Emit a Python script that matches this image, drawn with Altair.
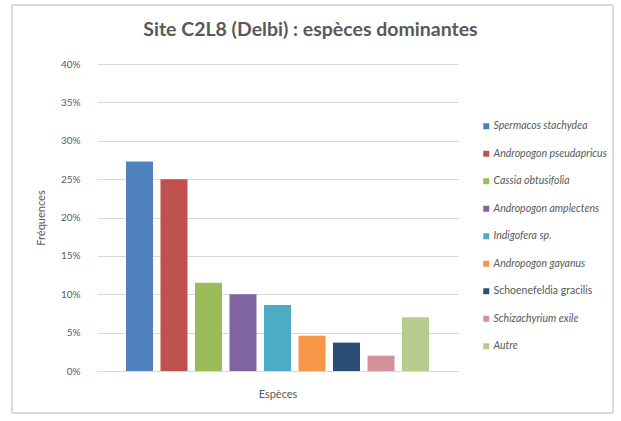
import altair as alt
import pandas as pd

# Dominant species at site C2L8 (Delbi) and their frequencies
especes = [
    " Spermacos stachydea",
    "Andropogon pseudapricus",
    "Cassia obtusifolia",
    "Andropogon amplectens",
    "Indigofera sp.",
    "Andropogon gayanus",
    " Schoenefeldia gracilis",
    "Schizachyrium exile",
    "Autre",
]
frequences = [0.273, 0.250, 0.115, 0.100, 0.086, 0.046, 0.037, 0.020, 0.070]
couleurs = [
    "#4F81BD", "#C0504D", "#9BBB59", "#8064A2", "#4BACC6",
    "#F79646", "#2C4D75", "#D4919A", "#B5CC8E",
]
graduations = [0, 0.05, 0.10, 0.15, 0.20, 0.25, 0.30, 0.35, 0.40]

df = pd.DataFrame({"espece": especes, "frequence": frequences})

FONT = "Lato"
GRAY = "#595959"

bars = alt.Chart(df).mark_bar(size=27).encode(
    x=alt.X(
        "espece:N",
        sort=especes,
        title="Espèces",
        scale=alt.Scale(paddingInner=0.217, paddingOuter=0.84),
        axis=alt.Axis(
            labels=False, ticks=False, domain=True, domainColor="#D9D9D9",
            titleFont=FONT, titleFontSize=11, titleFontWeight="normal",
            titleColor=GRAY, titlePadding=17,
        ),
    ),
    y=alt.Y(
        "frequence:Q",
        title="Fréquences",
        scale=alt.Scale(domain=[0, 0.4], nice=False),
        axis=alt.Axis(
            values=graduations, format=".0%", domain=False, ticks=False,
            gridColor="#D9D9D9", labelFont=FONT, labelFontSize=10,
            labelColor=GRAY, labelPadding=17, titleFont=FONT,
            titleFontSize=11, titleFontWeight="normal", titleColor=GRAY,
            titlePadding=14,
        ),
    ),
    color=alt.Color(
        "espece:N",
        sort=especes,
        scale=alt.Scale(domain=especes, range=couleurs),
        legend=alt.Legend(
            title=None, orient="none", legendX=384, legendY=57,
            symbolType="square", symbolSize=36, symbolStrokeWidth=0,
            labelFont=FONT, labelFontSize=10.5, labelColor=GRAY,
            labelFontStyle={"expr": "datum.label == ' Schoenefeldia gracilis' ? 'normal' : 'italic'"},
            rowPadding=16.5, symbolOffset=0, labelOffset=2,
        ),
    ),
)

# light frame around the whole chart area
cadre = alt.Chart(df).mark_rect(
    fill=None, stroke="#D9D9D9", strokeWidth=1
).encode(
    x=alt.value(-85), x2=alt.value(516), y=alt.value(-59), y2=alt.value(349)
)

chart = (
    alt.layer(cadre, bars)
    .properties(
        width=361,
        height=307,
        autosize=alt.AutoSizeParams(type="none"),
        padding={"left": 97, "top": 64, "right": 163, "bottom": 50},
        title=alt.Title(
            "Site C2L8 (Delbi) : espèces dominantes",
            font=FONT, fontSize=19.5, fontWeight="bold", color=GRAY,
            anchor="middle", dx=33, offset=0, dy=36,
        ),
        background="white",
    )
    .configure_view(stroke=None)
)

chart.save("out.html", embed_options={"renderer": "svg", "actions": False})
